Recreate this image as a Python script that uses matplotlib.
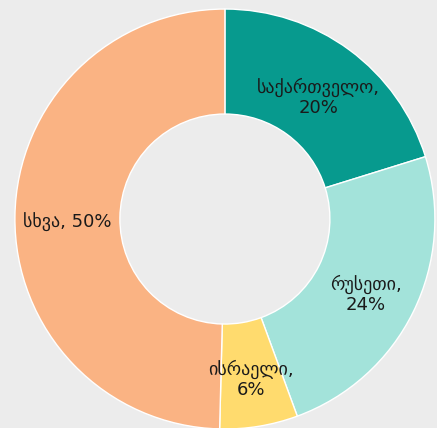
import numpy as np
import matplotlib.pyplot as plt

# slice data (clockwise from 12 o'clock)
names = ['საქართველო', 'რუსეთი', 'ისრაელი', 'სხვა']
shares = [20.2, 24.2, 6.0, 49.6]
pct_labels = ['20%', '24%', '6%', '50%']
colors = ['#079a8e', '#a3e3da', '#ffdb6e', '#fab383']

texts = [n + ',\n' + p for n, p in zip(names, pct_labels)]
texts[3] = names[3] + ', ' + pct_labels[3]

fig = plt.figure(figsize=(4.37, 4.28), dpi=100, facecolor='#ececec')
ax = fig.add_axes([0, 0, 1, 1])
ax.set_facecolor('#ececec')

wedges, _ = ax.pie(shares, colors=colors, startangle=90, counterclock=False,
                   radius=1, wedgeprops=dict(width=0.5, edgecolor='white', linewidth=1))

# labels sit in the middle of the ring, a touch low
for w, t in zip(wedges, texts):
    mid = np.deg2rad((w.theta1 + w.theta2) / 2)
    r = 0.75
    ax.text(r * np.cos(mid), r * np.sin(mid) - 0.025, t, ha='center', va='center',
            fontsize=13, color='#1a1a1a', linespacing=1.15)

ax.set_xlim(-1.071, 1.01)
ax.set_ylim(-0.995, 1.043)
ax.axis('off')

fig.savefig('out.png', dpi=100, facecolor='#ececec')
